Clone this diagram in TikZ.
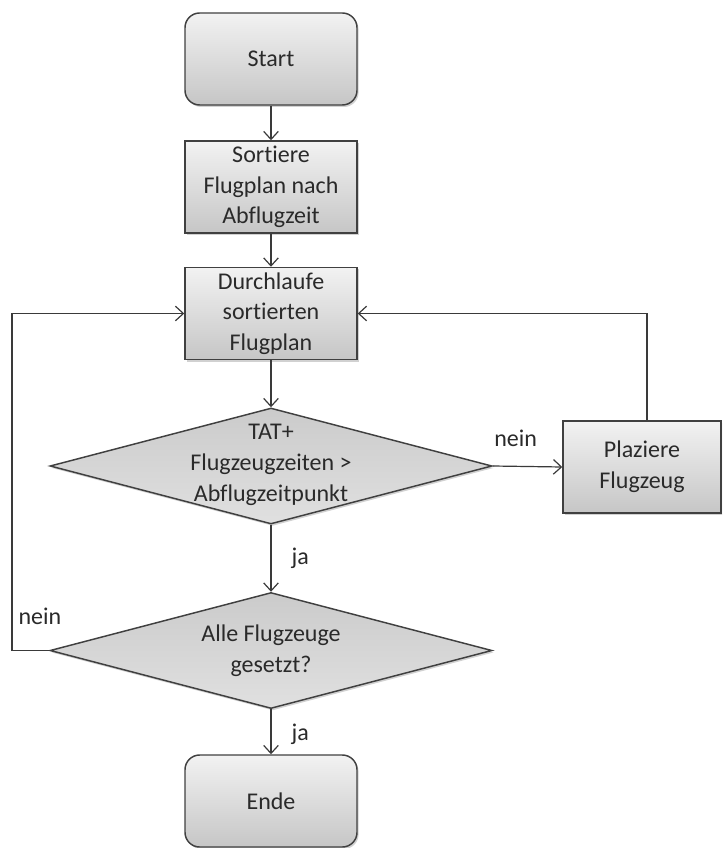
\documentclass[tikz,border=0pt]{standalone}
\usepackage{fontspec}
\setmainfont{Carlito}[Ligatures=NoCommon]
\usetikzlibrary{shapes.geometric,arrows.meta,shadows}

\definecolor{edge}{HTML}{404040}
\definecolor{wire}{HTML}{3A3A3A}
\definecolor{ink}{HTML}{2A2A2A}
\definecolor{boxtop}{HTML}{F2F2F2}
\definecolor{boxbot}{HTML}{C6C6C6}
\definecolor{dtop}{HTML}{CBCBCB}
\definecolor{dbot}{HTML}{E0E0E0}

\begin{document}
\begin{tikzpicture}[x=0.75pt,y=-0.75pt,
  txt/.style={font=\fontsize{18}{23}\selectfont, text=ink, align=center},
  lbl/.style={font=\fontsize{18}{23}\selectfont, text=ink, inner sep=0pt},
  softshadow/.style={drop shadow={shadow xshift=1.2pt, shadow yshift=-1.5pt, opacity=0.3, fill=black!60}},
  procbox/.style={txt, draw=edge, line width=1.1pt, top color=boxtop, bottom color=boxbot,
    minimum width=129pt, minimum height=69pt, inner sep=0pt, softshadow},
  termbox/.style={procbox, rounded corners=11pt},
  decision/.style={diamond, draw=edge, line width=1.1pt, top color=dtop, bottom color=dbot,
    minimum width=331.5pt, minimum height=87pt, inner sep=0pt, softshadow},
  arr/.style={draw=wire, line width=0.9pt, -{Straight Barb[length=6pt,width=11pt,line width=0.9pt]}}
]
\useasboundingbox (0,0) rectangle (722,848);
\clip (0,0) rectangle (722,848);

% process steps
\node[termbox] (start) at (271,59) {Start};
\node[procbox] (sort) at (271,187) {Sortiere\\Flugplan nach\\Abflugzeit};
\node[procbox] (loop) at (271,313.5) {Durchlaufe\\sortierten\\Flugplan};
\node[decision] (d1) at (271,466) {};
\node[txt] (d1text) at (271,465) {TAT+\\Flugzeugzeiten >\\Abflugzeitpunkt};
\node[procbox, minimum width=118.5pt] (place) at (642,467) {Plaziere\\Flugzeug};
\node[decision] (d2) at (271,650.5) {};
\node[txt] (d2text) at (d2.center) {Alle Flugzeuge\\gesetzt?};
\node[termbox] (ende) at (271,801) {Ende};

% return path on the left
\coordinate (lft) at (12,0);

% connectors
\draw[arr] (start) -- (sort);
\draw[arr] (sort) -- (loop);
\draw[arr] (loop) -- (d1);
\draw[arr] (d1.east) -- node[lbl, pos=0.33, above=14pt] (nein1) {nein} (place.west);
\draw[arr] ([xshift=3.75pt]place.north) |- (loop.east);
\draw[arr] (d1.south) -- node[lbl, midway, right=15pt] (ja1) {ja} (d2.north);
\draw[arr] (d2.west) -- (lft |- d2.west)
  -- node[lbl, pos=0.1, anchor=west, xshift=4.5pt] (nein2) {nein} (lft |- loop.west)
  -- (loop.west);
\draw[arr] (d2.south) -- node[lbl, pos=0.55, right=15pt] (ja2) {ja} (ende.north);
\end{tikzpicture}
\end{document}
